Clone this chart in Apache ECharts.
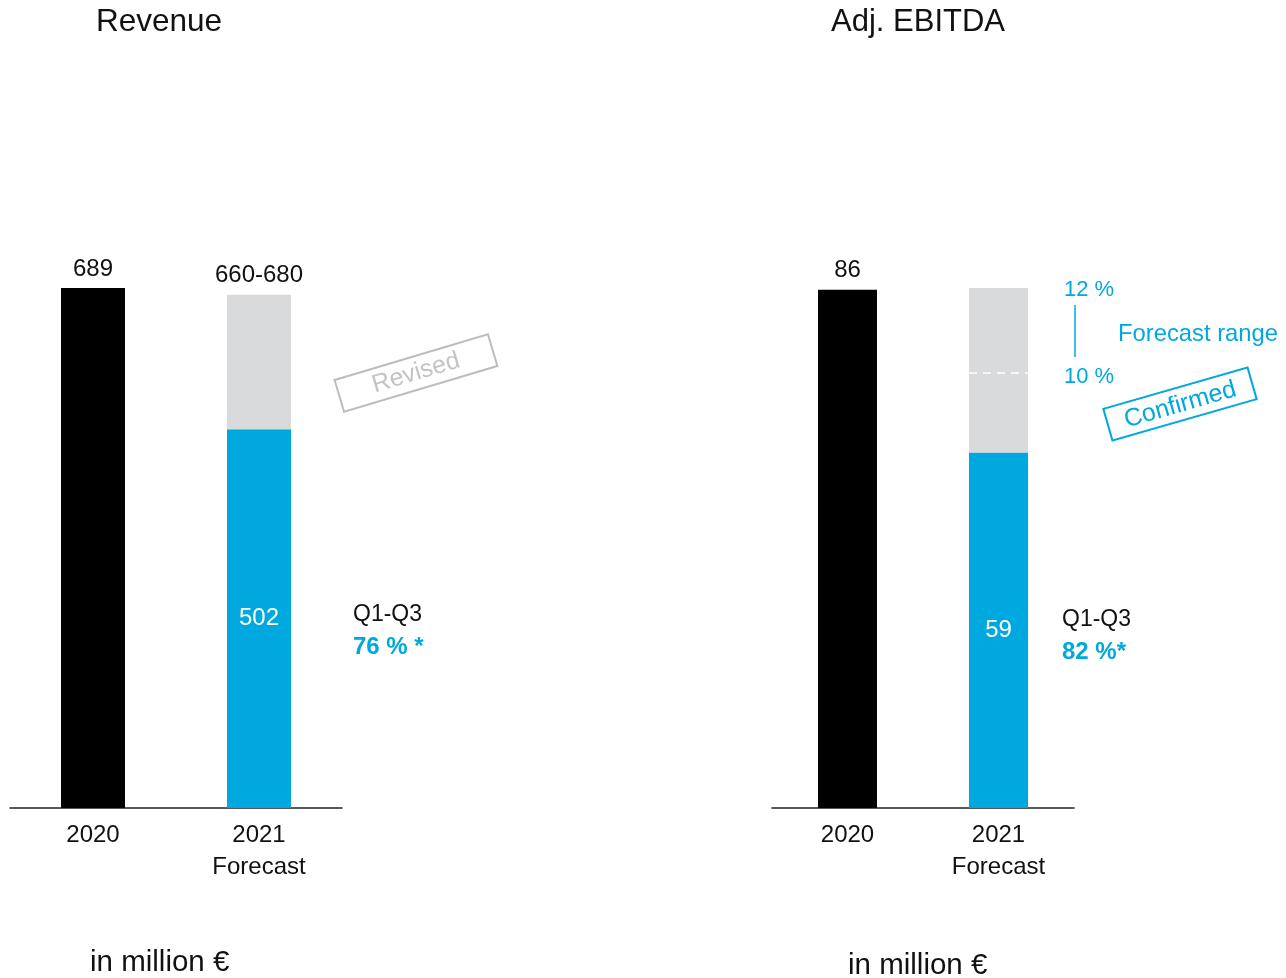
<!DOCTYPE html>
<html><head><meta charset="utf-8">
<script src="https://cdn.jsdelivr.net/npm/echarts@6/dist/echarts.min.js"></script>
<style>html,body{margin:0;padding:0;background:#fff}#c{width:1286px;height:978px}</style>
</head><body><div id="c"></div>
<script>
const categories = ['2020', '2021\nForecast'];
const revenue2020 = 689;
const revenueQ1Q3 = 502;
const revenueForecast = [660, 680];
const ebitda2020 = 86;
const ebitdaQ1Q3 = 59;
const ebitdaRangeTop = 86.3;   // 12 % level as drawn
const ebitdaRangeLow = 72.2;   // 10 % level as drawn
const revenueShare = '76 % *';
const ebitdaShare = '82 %*';

const BLUE = '#00a8e0', GRAY = '#d9dadc', FONT = '"Liberation Sans", Arial, sans-serif';
const deg = Math.PI / 180;

const chart = echarts.init(document.getElementById('c'));

const topLabel = { show: true, position: 'top', distance: 7, color: '#111', fontSize: 24, fontFamily: FONT };
const inLabel = { show: true, position: 'inside', color: '#fff', fontSize: 24, fontFamily: FONT };

function xAx(gi) {
  return {
    type: 'category', gridIndex: gi, data: categories,
    axisLine: { lineStyle: { color: '#222', width: 1.5 } },
    axisTick: { show: false },
    axisLabel: { color: '#111', fontSize: 24, lineHeight: 32, margin: 11, fontFamily: FONT }
  };
}
function yAx(gi, max) {
  return { type: 'value', gridIndex: gi, min: 0, max: max, show: false, splitLine: { show: false } };
}

const option = {
  animation: false,
  backgroundColor: '#fff',
  grid: [
    { left: 10, width: 332, top: 288, bottom: 170 },
    { left: 772, width: 302, top: 288, bottom: 170 }
  ],
  xAxis: [xAx(0), xAx(1)],
  yAxis: [yAx(0, 689), yAx(1, 86.3)],
  series: [
    { type: 'bar', stack: 'r', xAxisIndex: 0, yAxisIndex: 0, barWidth: 64,
      data: [{ value: revenue2020, itemStyle: { color: '#000' }, label: topLabel }, '-'] },
    { type: 'bar', stack: 'r', xAxisIndex: 0, yAxisIndex: 0, barWidth: 64,
      itemStyle: { color: BLUE }, label: inLabel, data: ['-', revenueQ1Q3] },
    { type: 'bar', stack: 'r', xAxisIndex: 0, yAxisIndex: 0, barWidth: 64,
      itemStyle: { color: GRAY },
      label: Object.assign({}, topLabel, { formatter: () => revenueForecast[0] + '-' + revenueForecast[1] }),
      data: ['-', revenueForecast[1] - revenueQ1Q3] },

    { type: 'bar', stack: 'e', xAxisIndex: 1, yAxisIndex: 1, barWidth: 59,
      data: [{ value: ebitda2020, itemStyle: { color: '#000' }, label: topLabel }, '-'] },
    { type: 'bar', stack: 'e', xAxisIndex: 1, yAxisIndex: 1, barWidth: 59,
      itemStyle: { color: BLUE }, label: inLabel, data: ['-', ebitdaQ1Q3] },
    { type: 'bar', stack: 'e', xAxisIndex: 1, yAxisIndex: 1, barWidth: 59,
      itemStyle: { color: GRAY }, data: ['-', ebitdaRangeTop - ebitdaQ1Q3] },
    { type: 'custom', xAxisIndex: 1, yAxisIndex: 1, z: 10,
      data: [[1, ebitdaRangeLow]],
      renderItem: function (params, api) {
        const p = api.coord([api.value(0), api.value(1)]);
        const w = 59;
        return { type: 'line', shape: { x1: p[0] - w / 2, y1: p[1], x2: p[0] + w / 2, y2: p[1] },
          style: { stroke: '#fff', lineWidth: 1.5, lineDash: [8, 6] } };
      } }
  ],
  graphic: [
    { type: 'text', x: 96, y: 22, style: { text: 'Revenue', fontSize: 31.5, fill: '#111', fontFamily: FONT, verticalAlign: 'middle' } },
    { type: 'text', x: 831, y: 22, style: { text: 'Adj. EBITDA', fontSize: 31, fill: '#111', fontFamily: FONT, verticalAlign: 'middle' } },

    { type: 'text', x: 90, y: 963, style: { text: 'in million €', fontSize: 29.5, fill: '#111', fontFamily: FONT, verticalAlign: 'middle' } },
    { type: 'text', x: 848, y: 966, style: { text: 'in million €', fontSize: 29.5, fill: '#111', fontFamily: FONT, verticalAlign: 'middle' } },

    { type: 'text', x: 353, y: 615, style: { text: 'Q1-Q3', fontSize: 23, fill: '#111', fontFamily: FONT, verticalAlign: 'middle' } },
    { type: 'text', x: 353, y: 647, style: { text: revenueShare, fontSize: 24, fontWeight: 'bold', fill: BLUE, fontFamily: FONT, verticalAlign: 'middle' } },
    { type: 'text', x: 1062, y: 620, style: { text: 'Q1-Q3', fontSize: 23, fill: '#111', fontFamily: FONT, verticalAlign: 'middle' } },
    { type: 'text', x: 1062, y: 652, style: { text: ebitdaShare, fontSize: 24, fontWeight: 'bold', fill: BLUE, fontFamily: FONT, verticalAlign: 'middle' } },

    { type: 'text', x: 1064, y: 290, style: { text: '12 %', fontSize: 22, fill: BLUE, fontFamily: FONT, verticalAlign: 'middle' } },
    { type: 'line', shape: { x1: 1075, y1: 305, x2: 1075, y2: 357 }, style: { stroke: BLUE, lineWidth: 1.5 } },
    { type: 'text', x: 1118, y: 334, style: { text: 'Forecast range', fontSize: 23.8, fill: BLUE, fontFamily: FONT, verticalAlign: 'middle' } },
    { type: 'text', x: 1064, y: 377, style: { text: '10 %', fontSize: 22, fill: BLUE, fontFamily: FONT, verticalAlign: 'middle' } },

    { type: 'group', x: 416, y: 373, rotation: 16.6 * deg, children: [
      { type: 'rect', shape: { x: -80, y: -16.5, width: 160, height: 33 }, style: { fill: 'none', stroke: '#bdbdbd', lineWidth: 2 } },
      { type: 'text', x: 0, y: 0, style: { text: 'Revised', fontSize: 25, fill: '#c4c4c4', fontFamily: FONT, align: 'center', verticalAlign: 'middle' } }
    ] },
    { type: 'group', x: 1180, y: 404, rotation: 16 * deg, children: [
      { type: 'rect', shape: { x: -75, y: -16.5, width: 150, height: 33 }, style: { fill: 'none', stroke: BLUE, lineWidth: 2 } },
      { type: 'text', x: 0, y: 1, style: { text: 'Confirmed', fontSize: 25, fill: BLUE, fontFamily: FONT, align: 'center', verticalAlign: 'middle' } }
    ] }
  ]
};
chart.setOption(option);
</script></body></html>
